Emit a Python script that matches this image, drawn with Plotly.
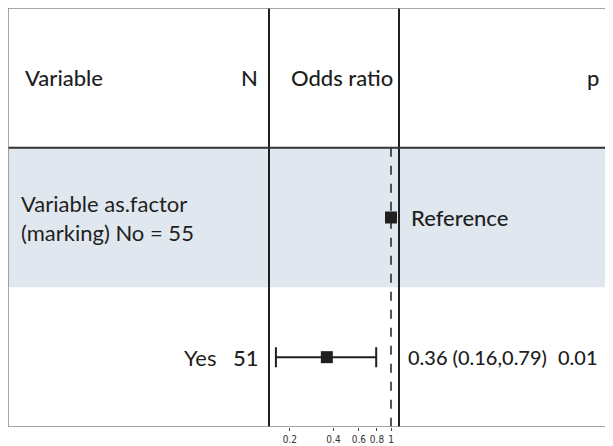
import numpy as np
import plotly.graph_objects as go

# ---- data ----
header_labels = ["Variable", "N", "Odds ratio", "p"]
group_label = "Variable as.factor<br>(marking) No = 55"
levels = ["Reference", "Yes"]
level_n = [None, 51]
estimates = [1.0, 0.36]
ci_low = [None, 0.16]
ci_high = [None, 0.79]
ci_text = ["Reference", "0.36 (0.16,0.79)"]
p_text = ["", "0.01"]
tick_vals = [0.2, 0.4, 0.6, 0.8, 1]
tick_text = ["0.2", "0.4", "0.6", "0.8", "1"]

# page body has an 8px margin; figure starts at page (8, 8)
OFF = 8
W, H = 605, 438
ml, mr, mt, mb = 0, 0, 0, 19
pw = W - ml - mr


def px(x):
    """page pixel x -> paper fraction"""
    return (x - OFF - ml) / pw


dark = "#1f1f1f"
font_main = "Lato, 'Open Sans', sans-serif"

fig = go.Figure()

rows = [1.5, 2.5]
err_plus = [0 if h is None else h - e for e, h in zip(estimates, ci_high)]
err_minus = [0 if l is None else e - l for e, l in zip(estimates, ci_low)]

fig.add_trace(go.Scatter(
    x=[estimates[1]], y=[rows[1]], mode="markers",
    marker=dict(symbol="square", size=12, color=dark),
    error_x=dict(type="data", symmetric=False, array=[err_plus[1]],
                 arrayminus=[err_minus[1]], color=dark, thickness=2, width=10),
    showlegend=False, hoverinfo="skip"))
fig.add_trace(go.Scatter(
    x=[estimates[0]], y=[rows[0]], mode="markers",
    marker=dict(symbol="square", size=12, color=dark),
    showlegend=False, hoverinfo="skip"))

shapes = []
shapes.append(dict(type="rect", xref="paper", yref="y", x0=0, x1=1, y0=1, y1=2,
                   fillcolor="#e0e7ef", line=dict(width=0), layer="below"))
shapes.append(dict(type="line", xref="x", yref="y", x0=1, x1=1, y0=1, y1=3,
                   line=dict(color=dark, width=1.5, dash="dash")))
for d in [0, 1]:
    shapes.append(dict(type="line", xref="x domain", yref="y", x0=d, x1=d, y0=0, y1=3,
                       line=dict(color=dark, width=2)))
shapes.append(dict(type="line", xref="paper", yref="y", x0=0, x1=1, y0=1, y1=1,
                   line=dict(color="#333333", width=2)))
for (x0, x1, y0, y1) in [(0, 1, 0, 0), (0, 0, 0, 3), (0, 1, 3, 3)]:
    shapes.append(dict(type="line", xref="paper", yref="y", x0=x0, x1=x1, y0=y0, y1=y1,
                       line=dict(color="#888888", width=1.5)))

ann = []


def add_text(text, x, y, anchor, size=22, color=dark, weight=400):
    ann.append(dict(text=text, x=px(x), y=y, xref="paper", yref="y",
                    xanchor=anchor, yanchor="middle", showarrow=False,
                    font=dict(family=font_main, size=size, color=color, weight=weight),
                    align="left"))


add_text(header_labels[0], 23, 0.5, "left", weight=500)
add_text(header_labels[1], 260, 0.5, "right", weight=500)
add_text(header_labels[2], 289, 0.5, "left", weight=500)
add_text(header_labels[3], 601, 0.5, "right", weight=500)
add_text(group_label, 19, 1.5, "left")
add_text(ci_text[0], 409, 1.5, "left", weight=500)
add_text(levels[1], 218, 2.5, "right")
add_text(str(level_n[1]), 261, 2.5, "right", weight=500)
add_text(ci_text[1], 406, 2.5, "left", size=20, weight=500)
add_text(p_text[1], 600, 2.5, "right", size=20, weight=500)

lo = np.log10(1) - (391 - 269) / 144.6
hi = np.log10(1) + (399 - 391) / 144.6

fig.update_layout(
    width=W, height=H,
    margin=dict(l=ml, r=mr, t=mt, b=mb, autoexpand=False),
    paper_bgcolor="white", plot_bgcolor="white",
    shapes=shapes, annotations=ann,
    xaxis=dict(type="log", domain=[px(269), px(399)], range=[lo, hi],
               tickvals=tick_vals, ticktext=tick_text, ticks="outside", ticklen=3,
               tickangle=0, automargin=False,
               tickcolor="#444444", showline=False, showgrid=False, zeroline=False,
               tickfont=dict(family="'Liberation Sans Narrow', 'DejaVu Sans Condensed', sans-serif",
                             size=10, color="#333333")),
    yaxis=dict(range=[3, 0], showticklabels=False, showgrid=False, zeroline=False,
               showline=False, ticks="", automargin=False),
)

fig.write_html("out.html")
